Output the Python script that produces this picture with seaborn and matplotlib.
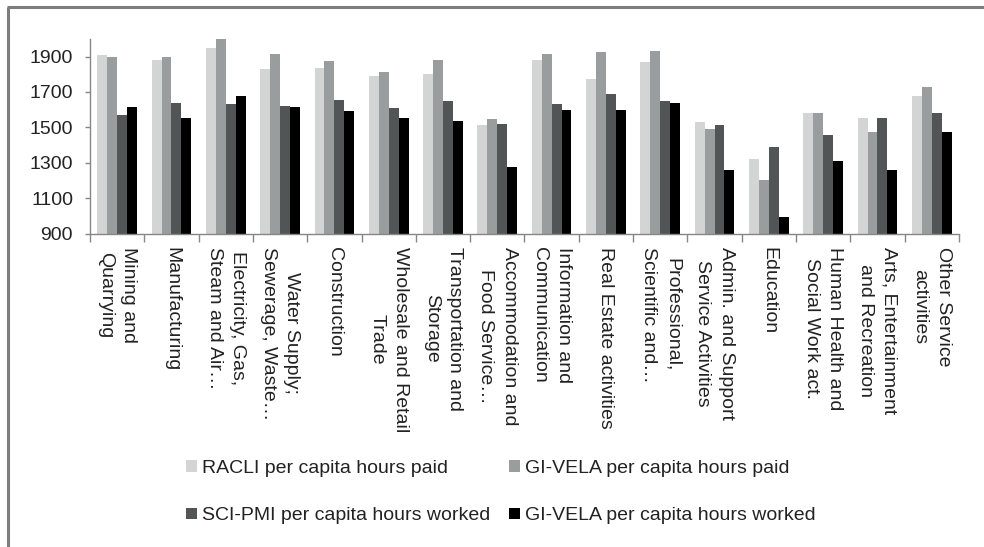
import numpy as np
import pandas as pd
import matplotlib
matplotlib.use("Agg")
import matplotlib.pyplot as plt
from matplotlib.lines import Line2D
import seaborn as sns

sectors = [
    "Mining and\nQuarrying",
    "Manufacturing",
    "Electricity, Gas,\nSteam and Air…",
    "Water Supply;\nSewerage, Waste…",
    "Construction",
    "Wholesale and Retail\nTrade",
    "Transportation and\nStorage",
    "Accommodation and\nFood Service…",
    "Information and\nCommunication",
    "Real Estate activities",
    "Professional,\nScientific and…",
    "Admin. and Support\nService Activities",
    "Education",
    "Human Health and\nSocial Work act.",
    "Arts, Entertainment\nand Recreation",
    "Other Service\nactivities",
]

series_names = [
    "RACLI per capita hours paid",
    "GI-VELA per capita hours paid",
    "SCI-PMI per capita hours worked",
    "GI-VELA per capita hours worked",
]

racli_paid = [1908, 1883, 1947, 1828, 1836, 1789, 1804, 1513, 1883, 1774, 1868, 1528, 1323, 1583, 1553, 1679]
givela_paid = [1900, 1900, 2000, 1917, 1876, 1813, 1883, 1545, 1917, 1925, 1932, 1489, 1204, 1583, 1474, 1727]
scipmi_worked = [1568, 1640, 1630, 1623, 1655, 1608, 1647, 1521, 1630, 1687, 1647, 1513, 1387, 1457, 1553, 1583]
givela_worked = [1615, 1553, 1679, 1615, 1591, 1553, 1536, 1275, 1600, 1600, 1640, 1260, 991, 1308, 1260, 1474]

y_ticks = [900, 1100, 1300, 1500, 1700, 1900]

colors = ["#d3d5d4", "#9a9d9d", "#515555", "#000000"]

# long-form table for seaborn
frames = []
for name, vals in zip(series_names, [racli_paid, givela_paid, scipmi_worked, givela_worked]):
    frames.append(pd.DataFrame({"Sector": sectors, "Hours": vals, "Series": name}))
df = pd.concat(frames, ignore_index=True)

sns.set_style("white")
plt.rcParams["font.family"] = ["Liberation Sans", "DejaVu Sans"]
plt.rcParams["font.size"] = 14

fig = plt.figure(figsize=(9.84, 5.47), dpi=100)
ax = fig.add_axes([0.0915, 0.573, 0.883, 0.356])

sns.barplot(
    data=df, x="Sector", y="Hours", hue="Series",
    order=sectors, hue_order=series_names, palette=colors,
    saturation=1, width=0.73, gap=0, linewidth=0, errorbar=None, ax=ax,
)

handles, labels = ax.get_legend_handles_labels()
if ax.get_legend() is not None:
    ax.get_legend().remove()

axis_col = "#868686"
ax.set_ylim(900, 2000)
ax.set_xlim(-0.5, len(sectors) - 0.5)
ax.set_yticks(y_ticks)
ax.set_yticklabels([str(v) for v in y_ticks], fontsize=14, color="#222222")
ax.set_xticks(range(len(sectors)))
ax.set_xticklabels(sectors, rotation=-90, ha="center", va="top",
                   multialignment="center", fontsize=14, color="#222222")
for lbl in ax.get_xticklabels():
    lbl.set_linespacing(1.5)
ax.set_xticks(np.arange(-0.5, len(sectors), 1), minor=True)
ax.tick_params(axis="x", which="major", length=0, pad=9.5)
ax.tick_params(axis="x", which="minor", length=5.8, width=1, color=axis_col, direction="out")
ax.tick_params(axis="y", which="major", length=3.6, width=1, color=axis_col, direction="out", pad=8.6)
ax.tick_params(left=True, bottom=True, which="both")
ax.set_xlabel("")
ax.set_ylabel("")
for side in ["top", "right"]:
    ax.spines[side].set_visible(False)
for side in ["left", "bottom"]:
    ax.spines[side].set_color(axis_col)
    ax.spines[side].set_linewidth(1)

# legend filled row by row: two series per row
order = [0, 2, 1, 3]
fig.legend(
    [handles[i] for i in order], [labels[i] for i in order],
    ncol=2, loc="center", bbox_to_anchor=(0.509, 0.1006),
    frameon=False, fontsize=14, handlelength=0.55, handleheight=0.55,
    handletextpad=0.25, columnspacing=1.0, labelspacing=1.58, borderpad=0,
    labelcolor="#222222",
)

# outer frame edges
frame_col = "#7b7e7d"
fig.add_artist(Line2D([0.0071, 1.0], [0.9863, 0.9863], transform=fig.transFigure,
                      color=frame_col, linewidth=2.2, solid_capstyle="butt"))
fig.add_artist(Line2D([0.0086, 0.0086], [0.0, 0.9863], transform=fig.transFigure,
                      color=frame_col, linewidth=2.2, solid_capstyle="butt"))

fig.savefig("out.png", dpi=100, facecolor="white")
